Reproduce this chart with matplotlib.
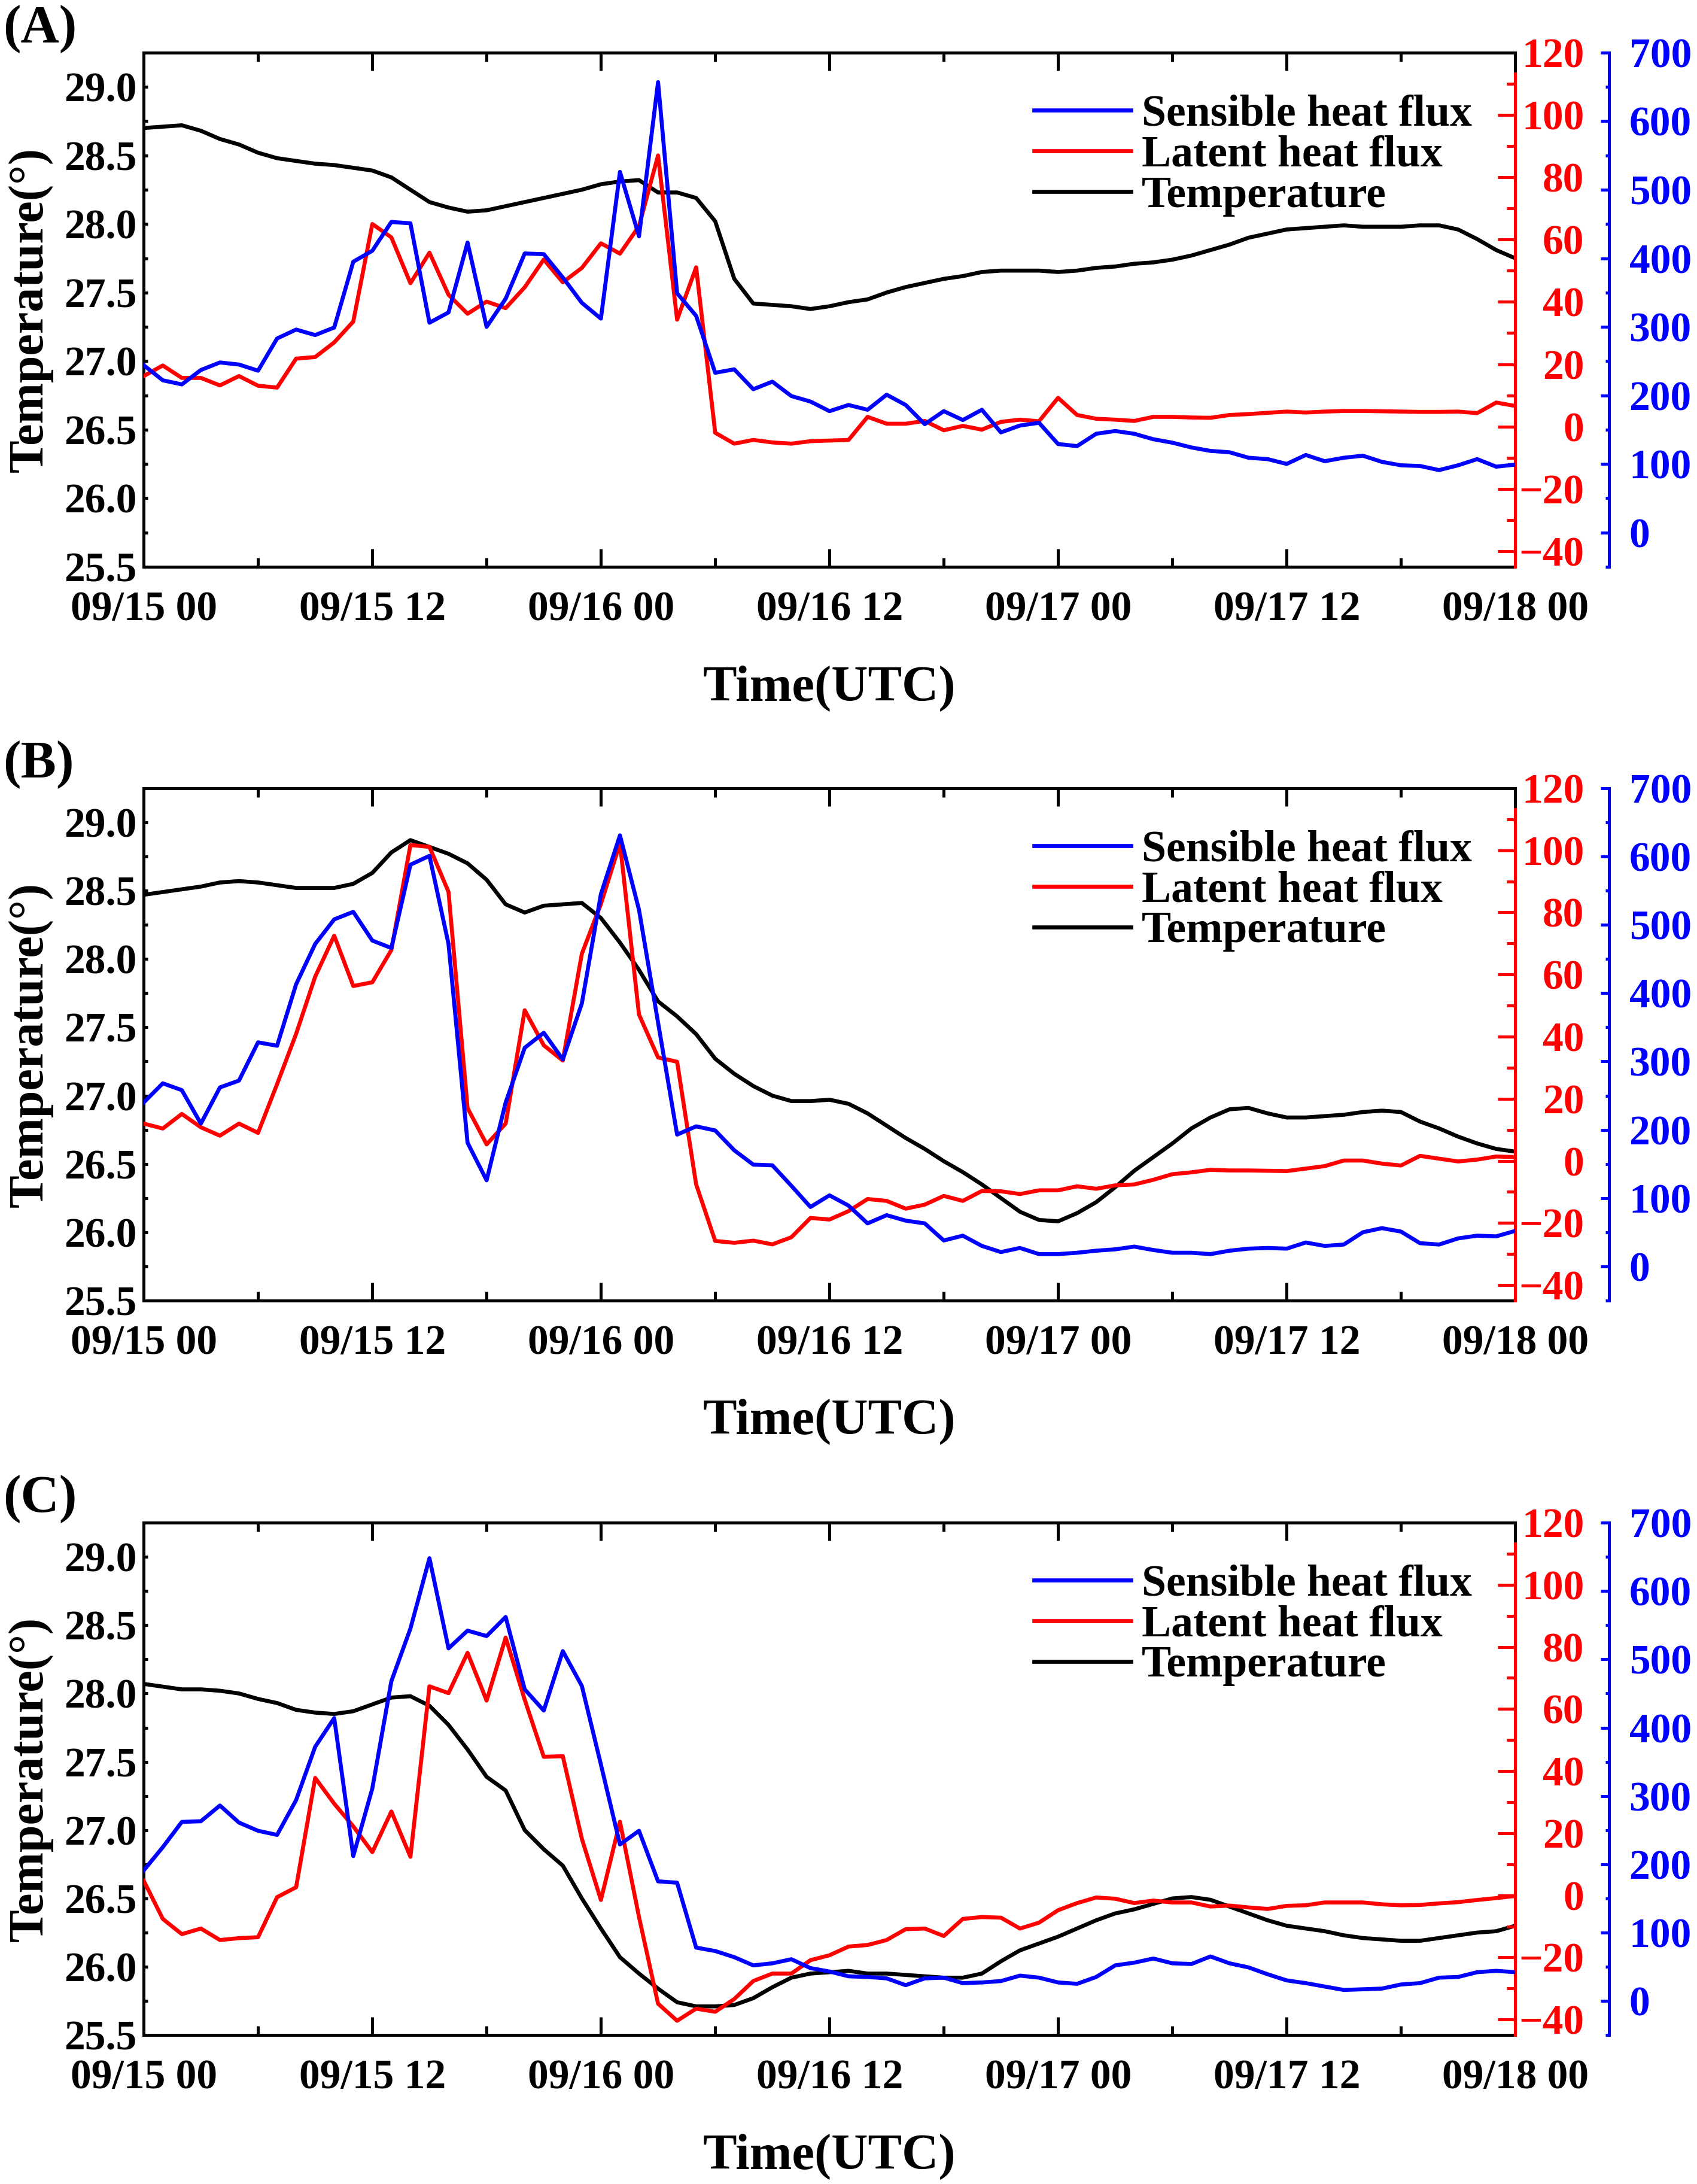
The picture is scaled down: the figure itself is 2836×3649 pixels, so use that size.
import numpy as np
import matplotlib
matplotlib.use("Agg")
import matplotlib.pyplot as plt
from matplotlib.ticker import MultipleLocator, FormatStrFormatter

plt.rcParams['font.family'] = ['Liberation Serif', 'DejaVu Serif']
plt.rcParams['font.weight'] = 'bold'
plt.rcParams['axes.labelweight'] = 'bold'

# hourly samples, 09/15 00 UTC -> 09/18 00 UTC
hours = np.arange(73)
time_labels = ["09/15 00", "09/15 12", "09/16 00", "09/16 12",
               "09/17 00", "09/17 12", "09/18 00"]
panel_names = ["(A)", "(B)", "(C)"]

### panel A
temp_a = [28.70, 28.71, 28.72, 28.68, 28.62, 28.58, 28.52, 28.48, 28.46, 28.44,
          28.43, 28.41, 28.39, 28.34, 28.25, 28.16, 28.12, 28.09, 28.10, 28.13,
          28.16, 28.19, 28.22, 28.25, 28.29, 28.31, 28.32, 28.23, 28.23, 28.19,
          28.02, 27.60, 27.42, 27.41, 27.40, 27.38, 27.40, 27.43, 27.45, 27.50,
          27.54, 27.57, 27.60, 27.62, 27.65, 27.66, 27.66, 27.66, 27.65, 27.66,
          27.68, 27.69, 27.71, 27.72, 27.74, 27.77, 27.81, 27.85, 27.90, 27.93,
          27.96, 27.97, 27.98, 27.99, 27.98, 27.98, 27.98, 27.99, 27.99, 27.96,
          27.89, 27.81, 27.75]
lhf_a = [16.2, 19.6, 15.6, 15.6, 13.2, 16.2, 13.1, 12.5, 21.8, 22.3,
         27.0, 33.7, 65.0, 60.7, 46.0, 55.8, 42.3, 36.2, 40.1, 38.0,
         44.7, 53.6, 46.3, 50.9, 58.8, 55.5, 64.3, 87.0, 34.3, 51.1,
         -2.0, -5.5, -4.3, -5.1, -5.5, -4.7, -4.5, -4.3, 3.1, 0.9,
         0.9, 1.8, -1.2, 0.2, -1.0, 1.5, 2.2, 1.7, 9.2, 3.7,
         2.5, 2.2, 1.8, 3.1, 3.1, 2.9, 2.8, 3.7, 4.0, 4.4,
         4.8, 4.5, 4.8, 5.0, 5.0, 4.9, 4.8, 4.7, 4.7, 4.8,
         4.3, 7.7, 6.6]
shf_a = [244, 222, 216, 237, 248, 245, 236, 283, 296, 288,
         299, 395, 411, 453, 451, 306, 321, 423, 300, 341,
         407, 406, 372, 335, 312, 526, 432, 657, 349, 316,
         233, 238, 209, 220, 199, 191, 177, 186, 179, 201,
         186, 158, 177, 164, 179, 146, 156, 160, 129, 126,
         144, 148, 144, 136, 131, 124, 119, 117, 109, 107,
         100, 113, 104, 109, 112, 103, 98, 97, 91, 98,
         107, 96, 99]

### panel B
temp_b = [28.47, 28.49, 28.51, 28.53, 28.56, 28.57, 28.56, 28.54, 28.52, 28.52,
          28.52, 28.55, 28.63, 28.78, 28.87, 28.82, 28.77, 28.70, 28.58, 28.40,
          28.34, 28.39, 28.40, 28.41, 28.30, 28.12, 27.92, 27.69, 27.58, 27.45,
          27.27, 27.16, 27.07, 27.00, 26.96, 26.96, 26.97, 26.94, 26.87, 26.78,
          26.69, 26.61, 26.52, 26.44, 26.35, 26.25, 26.15, 26.09, 26.08, 26.14,
          26.22, 26.33, 26.45, 26.55, 26.65, 26.76, 26.84, 26.90, 26.91, 26.87,
          26.84, 26.84, 26.85, 26.86, 26.88, 26.89, 26.88, 26.81, 26.76, 26.70,
          26.65, 26.61, 26.59]
lhf_b = [12.0, 10.4, 15.1, 10.8, 8.1, 12.0, 9.0, 24.7, 40.9, 59.3,
         72.5, 56.3, 57.5, 67.9, 101.7, 101.1, 86.6, 17.0, 5.3, 12.0,
         48.5, 37.2, 32.3, 66.7, 82.7, 102.3, 47.1, 33.3, 31.9, -7.6,
         -25.8, -26.4, -25.7, -26.9, -24.6, -18.4, -18.9, -16.2, -12.3, -12.9,
         -15.4, -14.1, -11.3, -12.9, -9.7, -9.8, -10.7, -9.5, -9.5, -8.2,
         -9.0, -7.9, -7.6, -6.1, -4.3, -3.7, -2.9, -3.1, -3.1, -3.2,
         -3.3, -2.5, -1.7, 0.1, 0.1, -0.9, -1.5, 1.6, 0.7, -0.2,
         0.4, 1.4, 1.2]
shf_b = [240, 268, 258, 209, 262, 272, 328, 323, 413, 472,
         508, 519, 477, 466, 588, 601, 472, 181, 126, 240,
         320, 342, 303, 385, 545, 631, 522, 357, 193, 205,
         199, 170, 149, 148, 118, 87, 104, 89, 63, 75,
         67, 63, 38, 45, 30, 21, 27, 18, 18, 20,
         23, 25, 29, 24, 20, 20, 18, 23, 26, 27,
         26, 35, 30, 32, 50, 56, 51, 34, 32, 41,
         45, 44, 52]

### panel C
temp_c = [28.07, 28.05, 28.03, 28.03, 28.02, 28.00, 27.96, 27.93, 27.88, 27.86,
          27.85, 27.87, 27.92, 27.97, 27.98, 27.91, 27.77, 27.59, 27.39, 27.29,
          27.00, 26.86, 26.74, 26.50, 26.28, 26.07, 25.95, 25.84, 25.74, 25.71,
          25.71, 25.72, 25.77, 25.85, 25.92, 25.95, 25.96, 25.97, 25.95, 25.95,
          25.94, 25.93, 25.92, 25.92, 25.95, 26.04, 26.12, 26.17, 26.22, 26.28,
          26.34, 26.39, 26.42, 26.46, 26.50, 26.51, 26.49, 26.44, 26.39, 26.34,
          26.30, 26.28, 26.26, 26.23, 26.21, 26.20, 26.19, 26.19, 26.21, 26.23,
          26.25, 26.26, 26.30]
lhf_c = [4.7, -7.6, -12.5, -10.7, -14.4, -13.8, -13.5, -0.6, 2.6, 37.8,
         29.5, 22.2, 13.9, 27.0, 12.4, 67.3, 65.1, 78.1, 62.7, 83.0,
         63.0, 44.6, 44.8, 18.2, -1.5, 23.7, -7.0, -34.9, -40.4, -36.5,
         -37.5, -33.4, -27.6, -25.2, -25.2, -20.9, -19.3, -16.5, -16.0, -14.4,
         -10.9, -10.7, -13.1, -7.6, -7.0, -7.2, -10.7, -8.8, -4.8, -2.5,
         -0.7, -1.1, -2.5, -1.7, -2.3, -2.3, -3.6, -3.3, -3.9, -4.4,
         -3.4, -3.2, -2.3, -2.3, -2.3, -2.9, -3.2, -3.1, -2.6, -2.2,
         -1.5, -0.9, -0.2]
shf_c = [191, 225, 262, 263, 286, 261, 249, 243, 294, 372,
         414, 212, 311, 468, 545, 648, 516, 542, 534, 562,
         456, 425, 512, 461, 346, 229, 249, 175, 173, 78,
         73, 64, 52, 55, 61, 48, 43, 36, 35, 33,
         23, 33, 34, 26, 27, 29, 37, 34, 27, 25,
         35, 52, 56, 62, 55, 54, 65, 55, 49, 39,
         30, 26, 21, 16, 17, 18, 24, 26, 34, 35,
         42, 44, 42]

temps = [temp_a, temp_b, temp_c]
lhfs = [lhf_a, lhf_b, lhf_c]
shfs = [shf_a, shf_b, shf_c]

fig = plt.figure(figsize=(28.36, 36.49), dpi=100)
bottoms = [0.7405, 0.4045, 0.0682]
heights = [0.2354, 0.2346, 0.2346]
lw = 4.8
sw = 3.6

for i in range(3):
    ax = fig.add_axes([0.0847, bottoms[i], 0.8082, heights[i]])
    ax_r = ax.twinx()
    ax_b = ax.twinx()

    lt, = ax.plot(hours, temps[i], color='black', lw=lw, label='Temperature')
    lr, = ax_r.plot(hours, lhfs[i], color='red', lw=lw, label='Latent heat flux')
    lb, = ax_b.plot(hours, shfs[i], color='blue', lw=lw, label='Sensible heat flux')

    # host axis (temperature)
    ax.set_xlim(0, 72)
    ax.set_ylim(25.5, 29.25)
    ax.set_xticks(range(0, 73, 12))
    ax.set_xticklabels(time_labels)
    ax.xaxis.set_minor_locator(MultipleLocator(6))
    ax.set_yticks(np.arange(25.5, 29.01, 0.5))
    ax.yaxis.set_major_formatter(FormatStrFormatter('%.1f'))
    ax.yaxis.set_minor_locator(MultipleLocator(0.25))
    ax.tick_params(axis='x', which='both', direction='in', top=True,
                   width=sw, labelsize=50, pad=29)
    ax.tick_params(axis='x', which='major', length=21.6)
    ax.tick_params(axis='x', which='minor', length=10.5)
    ax.tick_params(axis='y', which='both', direction='in', length=5,
                   width=sw, labelsize=50, pad=8.6)
    for s in ax.spines.values():
        s.set_linewidth(sw)
    ax.set_xlabel('Time(UTC)', fontsize=61)
    ax.xaxis.set_label_coords(0.5, -0.192)
    ax.set_ylabel('Temperature(°)', fontsize=59)
    ax.yaxis.set_label_coords(-0.066, 0.5)
    ax.text(-0.1025, 1.021, panel_names[i], transform=ax.transAxes,
            fontsize=64, ha='left', va='baseline')

    # latent heat flux axis (red)
    ax_r.set_ylim(-45, 120)
    ax_r.set_yticks(np.arange(-40, 121, 20))
    ax_r.yaxis.set_minor_locator(MultipleLocator(10))
    for side in ['left', 'top', 'bottom']:
        ax_r.spines[side].set_visible(False)
    ax_r.spines['right'].set_color('red')
    ax_r.spines['right'].set_linewidth(sw)
    ax_r.spines['right'].set_bounds(-45, 113.3)
    ax_r.tick_params(axis='y', which='both', direction='in', colors='red',
                     width=sw, labelsize=50, pad=83)
    ax_r.tick_params(axis='y', which='major', length=21)
    ax_r.tick_params(axis='y', which='minor', length=10)
    for t in ax_r.yaxis.get_major_ticks():
        t.label2.set_horizontalalignment('right')
    ax_r.yaxis.get_major_ticks()[-1].tick2line.set_visible(False)

    # sensible heat flux axis (blue), offset to the right
    ax_b.set_ylim(-50, 700)
    ax_b.set_yticks(np.arange(0, 701, 100))
    ax_b.yaxis.set_minor_locator(MultipleLocator(50))
    for side in ['left', 'top', 'bottom']:
        ax_b.spines[side].set_visible(False)
    ax_b.spines['right'].set_position(('axes', 1.0685))
    ax_b.spines['right'].set_color('blue')
    ax_b.spines['right'].set_linewidth(sw)
    ax_b.tick_params(axis='y', which='both', direction='in', colors='blue',
                     width=sw, labelsize=50, pad=24)
    ax_b.tick_params(axis='y', which='major', length=10)
    ax_b.tick_params(axis='y', which='minor', length=4)

    ax_b.legend([lb, lr, lt], ['Sensible heat flux', 'Latent heat flux', 'Temperature'],
                loc='upper left', bbox_to_anchor=(0.649, 0.919), frameon=False,
                fontsize=53, handlelength=2.2, handletextpad=0.245,
                labelspacing=0.0, borderpad=0, borderaxespad=0)

fig.savefig('out.png', dpi=100)
